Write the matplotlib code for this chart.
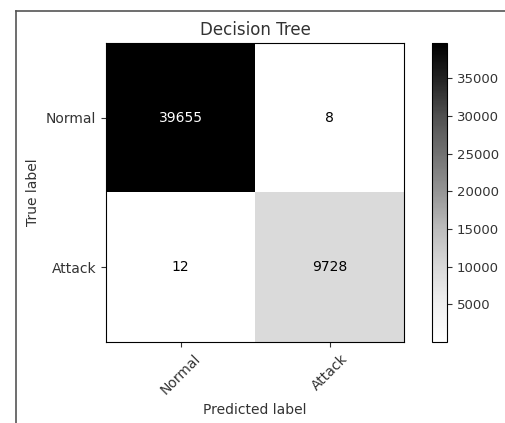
import numpy as np
import matplotlib
matplotlib.use('Agg')
import matplotlib.pyplot as plt
from matplotlib.lines import Line2D

# Confusion matrix values
classes = ['Normal', 'Attack']
cm = np.array([[39655, 8],
               [12, 9728]])
cbar_ticks = [5000, 10000, 15000, 20000, 25000, 30000, 35000]

fig = plt.figure(figsize=(5.06, 4.23), dpi=100)

# screenshot frame lines
fig.add_artist(Line2D([16/506, 1], [1 - 11/423, 1 - 11/423], color='#555555', lw=1.2))
fig.add_artist(Line2D([16/506, 16/506], [0, 1 - 11/423], color='#555555', lw=1.2))

ax = fig.add_axes([106/506, 81/423, 298/506, 299/423])
cax = fig.add_axes([432/506, 81/423, 15/506, 299/423])

im = ax.imshow(cm, interpolation='nearest', cmap=plt.cm.Greys, aspect='auto')
cb = fig.colorbar(im, cax=cax)
cb.set_ticks(cbar_ticks)
cb.ax.tick_params(labelsize=9.5, colors='#333333')

ax.set_title('Decision Tree', fontsize=12, color='#333333')
ax.set_xticks(np.arange(len(classes)))
ax.set_yticks(np.arange(len(classes)))
ax.set_xticklabels(classes, rotation=45)
ax.set_yticklabels(classes)
ax.tick_params(labelsize=10, colors='#333333')

thresh = cm.max() / 2.
for i in range(cm.shape[0]):
    for j in range(cm.shape[1]):
        ax.text(j, i, format(cm[i, j], 'd'), ha='center', va='center', fontsize=10,
                color='white' if cm[i, j] > thresh else 'black')

ax.set_ylabel('True label', fontsize=10, color='#333333')
ax.set_xlabel('Predicted label', fontsize=10, color='#333333')

fig.savefig('out.png', dpi=100)
